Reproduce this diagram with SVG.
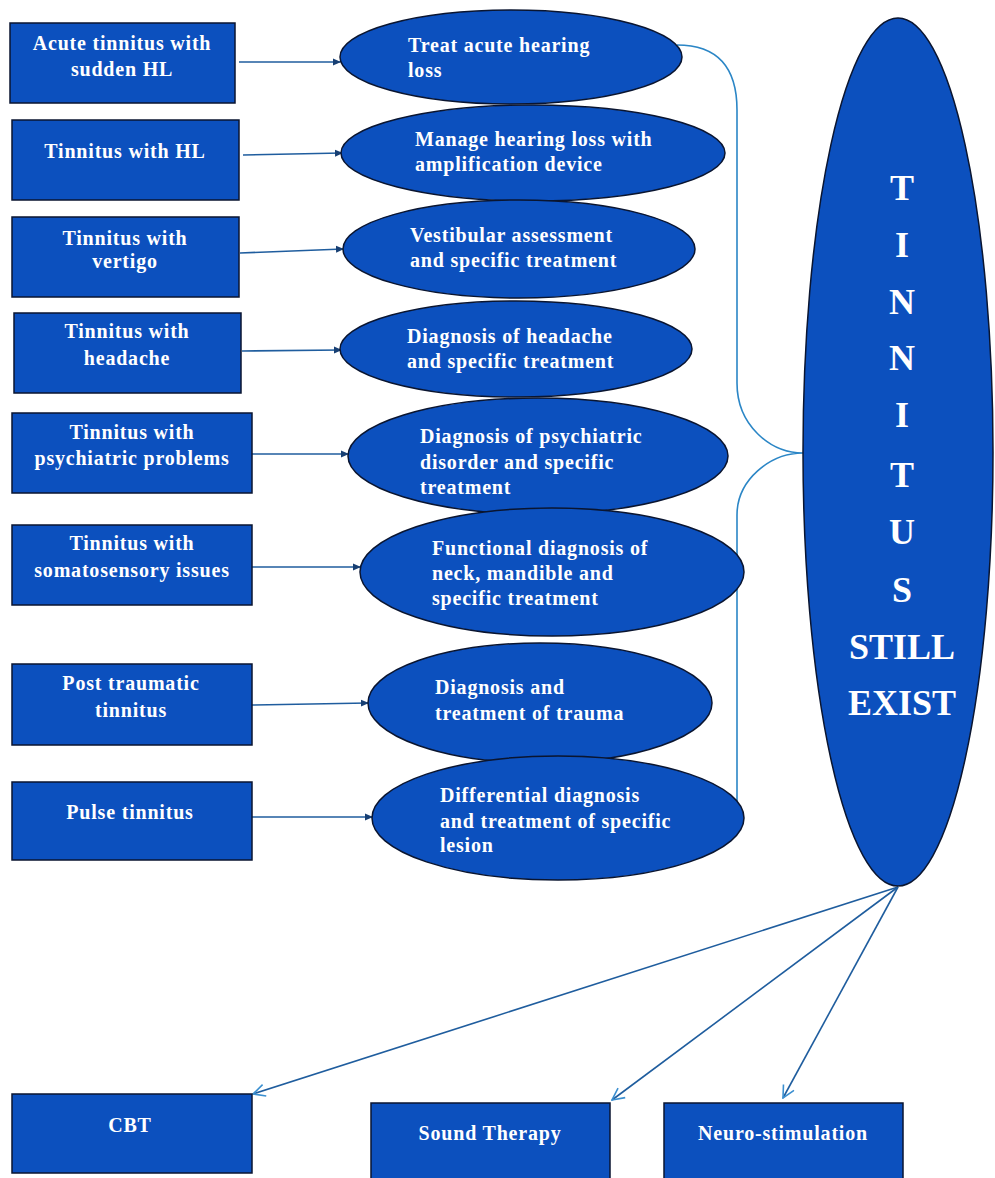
<svg xmlns="http://www.w3.org/2000/svg" width="995" height="1178" viewBox="0 0 995 1178">
<style>
.box{fill:#0c50be;stroke:#0a1530;stroke-width:1.5}
.ell{fill:#0c50be;stroke:#0a1530;stroke-width:1.5}
.t{font-family:"Liberation Serif",serif;font-weight:bold;font-size:20px;fill:#fff;letter-spacing:0.8px}
.c{text-anchor:middle}
.big{font-family:"Liberation Serif",serif;font-weight:bold;font-size:36px;fill:#fff;text-anchor:middle}
.ln{fill:none;stroke:#1f5d9e;stroke-width:1.6}
.br{fill:none;stroke:#2b86c6;stroke-width:1.6}
</style>
<defs>
<marker id="ah" markerWidth="8" markerHeight="8" refX="7" refY="4" orient="auto" markerUnits="userSpaceOnUse">
<path d="M0,0.5 L8,4 L0,7.5 Z" fill="#173f73"/>
</marker>
<marker id="oa" markerWidth="14" markerHeight="14" refX="13" refY="7" orient="auto" markerUnits="userSpaceOnUse">
<path d="M1,1 L13,7 L1,13" fill="none" stroke="#3b8fd0" stroke-width="1.6"/>
</marker>
</defs>

<g id="connectors">
<line class="ln" x1="239" y1="62" x2="340" y2="62" marker-end="url(#ah)"/>
<line class="ln" x1="243" y1="155" x2="342" y2="153" marker-end="url(#ah)"/>
<line class="ln" x1="240" y1="253" x2="343" y2="249" marker-end="url(#ah)"/>
<line class="ln" x1="242" y1="351" x2="341" y2="350" marker-end="url(#ah)"/>
<line class="ln" x1="252" y1="454" x2="348" y2="454" marker-end="url(#ah)"/>
<line class="ln" x1="252" y1="567" x2="360" y2="567" marker-end="url(#ah)"/>
<line class="ln" x1="252" y1="705" x2="368" y2="703" marker-end="url(#ah)"/>
<line class="ln" x1="252" y1="817" x2="372" y2="817" marker-end="url(#ah)"/>
<path class="br" d="M677,45 C720,45 737,70 737,110 L737,383 C737,425 770,453 803,453 C770,453 737,480 737,515 L737,801"/>
<line class="ln" x1="898" y1="887" x2="253" y2="1094" marker-end="url(#oa)"/>
<line class="ln" x1="898" y1="887" x2="612" y2="1100" marker-end="url(#oa)"/>
<line class="ln" x1="898" y1="887" x2="783" y2="1098" marker-end="url(#oa)"/>
</g>

<g id="box1"><rect class="box" x="10" y="23" width="225" height="80"/>
<text class="t c" x="122" y="50">Acute tinnitus with</text><text class="t c" x="122" y="76">sudden HL</text></g>
<g id="box2"><rect class="box" x="12" y="120" width="227" height="80"/>
<text class="t c" x="125" y="158">Tinnitus with HL</text></g>
<g id="box3"><rect class="box" x="12" y="217" width="227" height="80"/>
<text class="t c" x="125" y="245">Tinnitus with</text><text class="t c" x="125" y="268">vertigo</text></g>
<g id="box4"><rect class="box" x="14" y="313" width="227" height="80"/>
<text class="t c" x="127" y="338">Tinnitus with</text><text class="t c" x="127" y="365">headache</text></g>
<g id="box5"><rect class="box" x="12" y="413" width="240" height="80"/>
<text class="t c" x="132" y="439">Tinnitus with</text><text class="t c" x="132" y="465">psychiatric problems</text></g>
<g id="box6"><rect class="box" x="12" y="525" width="240" height="80"/>
<text class="t c" x="132" y="550">Tinnitus with</text><text class="t c" x="132" y="577">somatosensory issues</text></g>
<g id="box7"><rect class="box" x="12" y="664" width="240" height="81"/>
<text class="t c" x="131" y="690">Post traumatic</text><text class="t c" x="131" y="717">tinnitus</text></g>
<g id="box8"><rect class="box" x="12" y="782" width="240" height="78"/>
<text class="t c" x="130" y="819">Pulse tinnitus</text></g>

<g id="ell1"><ellipse class="ell" cx="511" cy="57" rx="171" ry="47"/>
<text class="t" x="408" y="52">Treat acute hearing</text><text class="t" x="408" y="77">loss</text></g>
<g id="ell2"><ellipse class="ell" cx="533" cy="153" rx="192" ry="48"/>
<text class="t" x="415" y="146">Manage hearing loss with</text><text class="t" x="415" y="171">amplification device</text></g>
<g id="ell3"><ellipse class="ell" cx="519" cy="249" rx="176" ry="49"/>
<text class="t" x="410" y="242">Vestibular assessment</text><text class="t" x="410" y="267">and specific treatment</text></g>
<g id="ell4"><ellipse class="ell" cx="516" cy="349" rx="176" ry="48"/>
<text class="t" x="407" y="343">Diagnosis of headache</text><text class="t" x="407" y="368">and specific treatment</text></g>
<g id="ell5"><ellipse class="ell" cx="538" cy="456" rx="190" ry="58"/>
<text class="t" x="420" y="443">Diagnosis of psychiatric</text><text class="t" x="420" y="469">disorder and specific</text><text class="t" x="420" y="494">treatment</text></g>
<g id="ell6"><ellipse class="ell" cx="552" cy="572" rx="192" ry="64"/>
<text class="t" x="432" y="555">Functional diagnosis of</text><text class="t" x="432" y="580">neck, mandible and</text><text class="t" x="432" y="605">specific treatment</text></g>
<g id="ell7"><ellipse class="ell" cx="540" cy="703" rx="172" ry="60"/>
<text class="t" x="435" y="694">Diagnosis and</text><text class="t" x="435" y="720">treatment of trauma</text></g>
<g id="ell8"><ellipse class="ell" cx="558" cy="818" rx="186" ry="62"/>
<text class="t" x="440" y="802">Differential diagnosis</text><text class="t" x="440" y="828">and treatment of specific</text><text class="t" x="440" y="852">lesion</text></g>

<g id="tinnitus"><ellipse class="ell" cx="898" cy="452" rx="95" ry="434"/>
<text class="big" x="902" y="200">T</text>
<text class="big" x="902" y="257">I</text>
<text class="big" x="902" y="314">N</text>
<text class="big" x="902" y="370">N</text>
<text class="big" x="902" y="427">I</text>
<text class="big" x="902" y="487">T</text>
<text class="big" x="902" y="544">U</text>
<text class="big" x="902" y="602">S</text>
<text class="big" x="902" y="659">STILL</text>
<text class="big" x="902" y="715">EXIST</text></g>

<g id="cbt"><rect class="box" x="12" y="1094" width="240" height="79"/>
<text class="t c" x="130" y="1132">CBT</text></g>
<g id="sound"><rect class="box" x="371" y="1103" width="239" height="85"/>
<text class="t c" x="490" y="1140">Sound Therapy</text></g>
<g id="neuro"><rect class="box" x="664" y="1103" width="239" height="85"/>
<text class="t c" x="783" y="1140">Neuro-stimulation</text></g>
</svg>
